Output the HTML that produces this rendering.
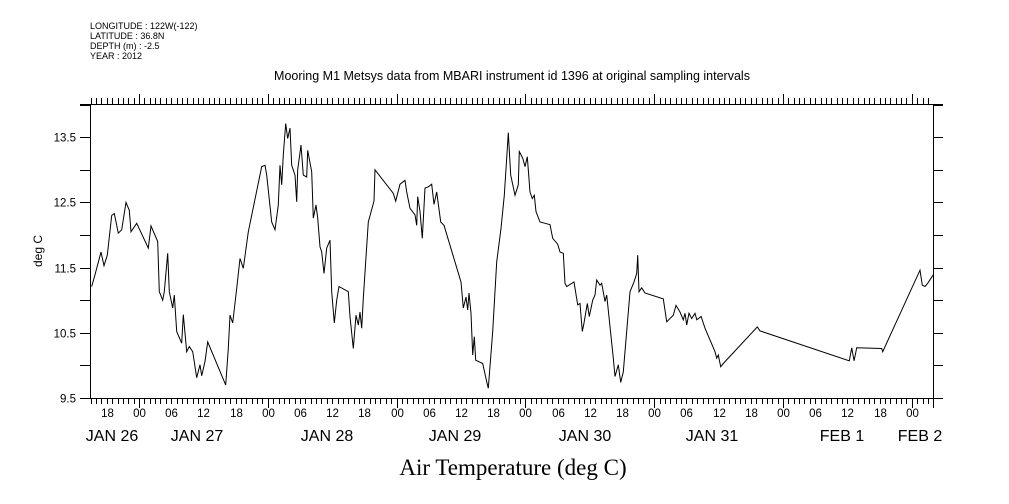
<!DOCTYPE html>
<html><head><meta charset="utf-8"><style>
html,body{margin:0;padding:0;background:#fff;}
svg{display:block;font-family:"Liberation Sans",sans-serif;}
</style></head><body>
<svg id="chart" width="1009" height="504" viewBox="0 0 1009 504" xmlns="http://www.w3.org/2000/svg">
<rect width="1009" height="504" fill="#fff"/>
<g font-size="9" fill="#000">
<text x="90" y="29">LONGITUDE : 122W(-122)</text>
<text x="90" y="39">LATITUDE : 36.8N</text>
<text x="90" y="49">DEPTH (m) : -2.5</text>
<text x="90" y="59">YEAR : 2012</text>
</g>
<text x="512" y="80" text-anchor="middle" font-size="12.5">Mooring M1 Metsys data from MBARI instrument id 1396 at original sampling intervals</text>
<text transform="translate(42,251) rotate(-90)" text-anchor="middle" font-size="12">deg C</text>
<text x="513" y="475" text-anchor="middle" font-size="23" font-family="Liberation Serif,serif">Air Temperature (deg C)</text>
<g id="axes" stroke="#000" stroke-width="1" shape-rendering="crispEdges"></g>
<g id="labels" fill="#000"></g>
<path id="series" fill="none" stroke="#000" stroke-width="1"/>
</svg>
<script>
// hours since 2012-01-26 00:00
const hours = [-8.81,-8.20,-7.08,-6.52,-5.91,-5.09,-4.60,-3.86,-3.22,-2.42,-1.81,-1.49,-0.43,1.73,2.24,3.48,3.78,4.42,4.71,5.35,5.65,6.28,6.58,7.03,7.96,8.26,8.89,9.37,10.01,10.75,11.37,11.68,12.30,12.80,16.16,16.64,16.96,17.46,18.21,18.82,19.44,20.37,22.86,23.48,23.80,24.73,25.34,25.96,26.27,26.59,26.89,27.34,27.71,28.14,28.45,29.07,29.39,29.57,30.19,30.62,31.25,31.44,32.18,32.48,32.98,33.30,33.73,34.05,34.47,34.98,35.59,35.91,36.39,36.84,37.27,39.00,39.32,39.93,40.43,40.86,41.18,41.49,41.79,42.73,43.79,43.98,47.39,47.83,48.64,49.57,49.88,50.50,51.43,51.75,51.94,52.36,52.79,53.29,53.91,54.54,54.97,55.47,56.22,56.83,60.00,60.43,60.93,61.25,61.49,61.87,62.18,62.48,62.74,64.05,64.79,65.09,65.91,66.66,67.46,68.07,68.52,68.82,69.26,70.06,70.68,70.87,71.50,71.93,72.36,72.86,73.29,73.66,73.98,74.72,75.66,76.59,77.09,78.02,78.45,79.07,79.38,79.70,81.06,81.75,82.18,82.61,82.92,83.54,83.91,84.54,84.97,85.29,85.90,86.22,86.84,87.15,88.38,88.70,89.31,89.76,90.24,91.49,92.24,92.74,92.93,93.17,93.67,94.29,97.70,98.33,99.56,100.07,100.81,101.43,101.74,102.06,102.49,102.99,103.61,103.93,104.73,105.47,107.33,107.65,107.95,108.39,108.88,115.21,115.72,132.36,132.81,133.24,133.74,138.40,138.58,145.53,145.96,146.46,146.97,148.01];
const temps = [11.21,11.39,11.74,11.53,11.69,12.30,12.33,12.03,12.08,12.50,12.38,12.05,12.18,11.80,12.14,11.90,11.13,11.00,11.13,11.72,11.13,10.88,11.08,10.52,10.34,10.78,10.21,10.29,10.21,9.81,10.01,9.84,10.06,10.36,9.70,10.26,10.77,10.65,11.18,11.64,11.49,12.05,13.05,13.07,12.92,12.20,12.08,12.46,13.07,12.77,13.23,13.71,13.48,13.64,13.07,12.92,12.51,13.00,13.38,12.92,12.89,13.30,12.97,12.26,12.46,12.26,11.82,11.74,11.41,11.80,11.92,11.13,10.65,11.00,11.21,11.13,10.75,10.26,10.77,10.62,10.82,10.57,11.03,12.20,12.52,13.00,12.64,12.52,12.78,12.84,12.66,12.41,12.31,12.15,12.59,12.36,11.95,12.72,12.74,12.78,12.47,12.66,12.20,12.15,11.28,10.88,11.05,10.85,11.11,10.80,10.16,10.44,10.08,10.03,9.75,9.65,10.52,11.59,12.10,12.61,13.18,13.57,12.92,12.61,12.77,13.28,13.18,13.05,13.20,12.66,12.56,12.61,12.36,12.20,12.18,12.16,11.95,11.86,11.74,11.72,11.26,11.21,11.28,10.93,10.95,10.52,10.65,10.95,10.75,11.00,11.08,11.31,11.23,11.26,10.98,11.08,10.11,9.83,10.01,9.74,9.90,11.13,11.28,11.41,11.69,11.13,11.19,11.11,11.02,10.67,10.77,10.92,10.82,10.70,10.80,10.62,10.80,10.72,10.80,10.70,10.75,10.57,10.21,10.11,10.16,9.98,10.03,10.59,10.53,10.07,10.27,10.07,10.27,10.26,10.21,11.46,11.23,11.21,11.26,11.39];
const yTickValues = [9.5,10.0,10.5,11.0,11.5,12.0,12.5,13.0,13.5,14.0];
const yTickLabels = ["9.5","","10.5","","11.5","","12.5","","13.5",""];
const hourLabels = ["18","00","06","12"];
const dayLabels = ["JAN 26","JAN 27","JAN 28","JAN 29","JAN 30","JAN 31","FEB  1","FEB  2"];
const dayLabelX = [112,197,327,455,585,712,842,920];

const L=90,R=933,T=104,B=398;
const HMIN=-9.13,HMAX=147.95,VMIN=9.5,VMAX=14.01;
function xs(h){return L+(h-HMIN)/(HMAX-HMIN)*(R-L);}
function ys(v){return B-(v-VMIN)/(VMAX-VMIN)*(B-T);}
const NS="http://www.w3.org/2000/svg";
const axes=document.getElementById('axes'), labels=document.getElementById('labels');
function ln(x1,y1,x2,y2,name){const e=document.createElementNS(NS,'line');
e.setAttribute('x1',x1);e.setAttribute('y1',y1);e.setAttribute('x2',x2);e.setAttribute('y2',y2);


axes.appendChild(e);}
function tx(x,y,s,size,anchor,name){const e=document.createElementNS(NS,'text');
e.setAttribute('x',x);e.setAttribute('y',y);e.setAttribute('font-size',size);e.setAttribute('text-anchor',anchor);
e.setAttribute('xml:space','preserve');e.textContent=s;


labels.appendChild(e);}
ln(80,T+0.5,943,T+0.5,'top-axis-line');
ln(80,B+0.5,943,B+0.5,'bottom-axis-line');
ln(L+0.5,T,L+0.5,B,'left-axis-line');
ln(R+0.5,T,R+0.5,B+10,'right-axis-line');
yTickValues.forEach((v,i)=>{const y=Math.round(ys(v))+0.5;
ln(80,y,L,y,'y-tick-left');ln(R,y,943,y,'y-tick-right');
if(yTickLabels[i])tx(76,y+4,yTickLabels[i],11.5,'end','y-tick-label');});
for(let h=Math.ceil(HMIN);h<=HMAX;h++){const x=Math.round(xs(h))+0.5;const major=(h%24===0);
ln(x,B,x,B+(major?10:6),'x-tick-bottom');ln(x,T,x,T-(major?10:6),'x-tick-top');
if(h%6===0){const idx=((h%24)+24)%24/6;const lab=[hourLabels[1],hourLabels[2],hourLabels[3],hourLabels[0]][idx];
tx(x,417,lab,11.5,'middle','hour-tick-label');}}
dayLabels.forEach((d,i)=>tx(dayLabelX[i],441,d,16,'middle','day-label'));
let dStr='';hours.forEach((h,i)=>{dStr+=(i?'L':'M')+xs(h).toFixed(1)+' '+ys(temps[i]).toFixed(1);});
document.getElementById('series').setAttribute('d',dStr);
</script>
</body></html>
